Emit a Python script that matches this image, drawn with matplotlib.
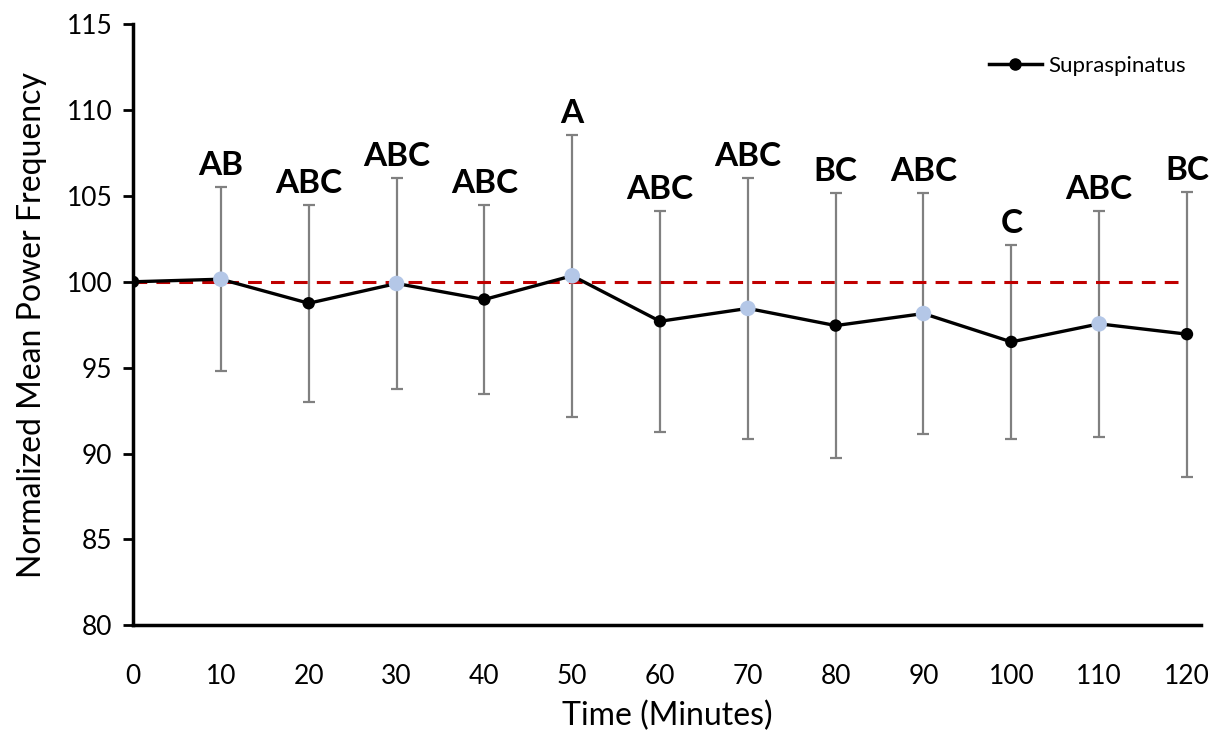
import numpy as np
import matplotlib
matplotlib.use("Agg")
import matplotlib.pyplot as plt
from matplotlib.lines import Line2D

# ------------------------------------- Data ---------#
time_min = [0, 10, 20, 30, 40, 50, 60, 70, 80, 90, 100, 110, 120]
mean_freq = [100.0, 100.15, 98.75, 99.9, 98.97, 100.35, 97.7, 98.45, 97.45,
             98.15, 96.5, 97.55, 96.95]
sd_freq = [0.0, 5.35, 5.75, 6.15, 5.5, 8.2, 6.45, 7.6, 7.7, 7.0, 5.65, 6.6, 8.3]
letters = ["", "AB", "ABC", "ABC", "ABC", "A", "ABC", "ABC", "BC", "ABC",
           "C", "ABC", "BC"]
light_points = [10, 30, 50, 70, 90, 110]

plt.rcParams['font.family'] = ['Lato', 'DejaVu Sans']

fig = plt.figure(figsize=(12.15, 7.33), dpi=100)
ax = fig.add_axes([0.1095, 0.147, 0.879, 0.820])

# Baseline at 100 %
ax.plot([0, 119], [100, 100], color='#C00000', linestyle=(0, (4.5, 3)),
        linewidth=2.2, zorder=2)

# Error bars
ax.errorbar(time_min[1:], mean_freq[1:], yerr=sd_freq[1:], fmt='none',
            ecolor='#808080', elinewidth=1.6, capsize=4, capthick=1.6,
            zorder=1)

# Main line
ax.plot(time_min, mean_freq, color='k', linewidth=2.4, zorder=3)
colors = ['#B4C7E7' if t in light_points else 'k' for t in time_min]
sizes = [125 if t in light_points else 80 for t in time_min]
ax.scatter(time_min, mean_freq, c=colors, s=sizes, zorder=4, linewidths=0)

# Significance letters above the bars
for t, m, s, lab in zip(time_min, mean_freq, sd_freq, letters):
    if lab:
        ax.text(t, m + s + 0.4, lab, ha='center', va='bottom',
                fontsize=24, fontweight='bold')

ax.set_xlim(0, 121.6)
ax.set_ylim(80, 115)
ax.set_xticks(time_min)
ax.set_yticks(np.arange(80, 116, 5))
ax.tick_params(axis='x', length=0, labelsize=19, pad=28)
ax.tick_params(axis='y', length=7, width=2, labelsize=19, pad=8, direction='out')

for side in ['top', 'right']:
    ax.spines[side].set_visible(False)
ax.spines['left'].set_linewidth(2.5)
ax.spines['bottom'].set_linewidth(2.5)

ax.set_xlabel('Time (Minutes)', fontsize=23, labelpad=8)
ax.set_ylabel('Normalized Mean Power Frequency', fontsize=23, labelpad=14)

handle = Line2D([], [], color='k', linewidth=2.5, marker='o', markersize=8)
ax.legend([handle], ['Supraspinatus'], loc='upper right', frameon=False,
          fontsize=16, bbox_to_anchor=(1.005, 0.98), handlelength=2.4,
          handletextpad=0.3)

fig.savefig('out.png', dpi=100)
